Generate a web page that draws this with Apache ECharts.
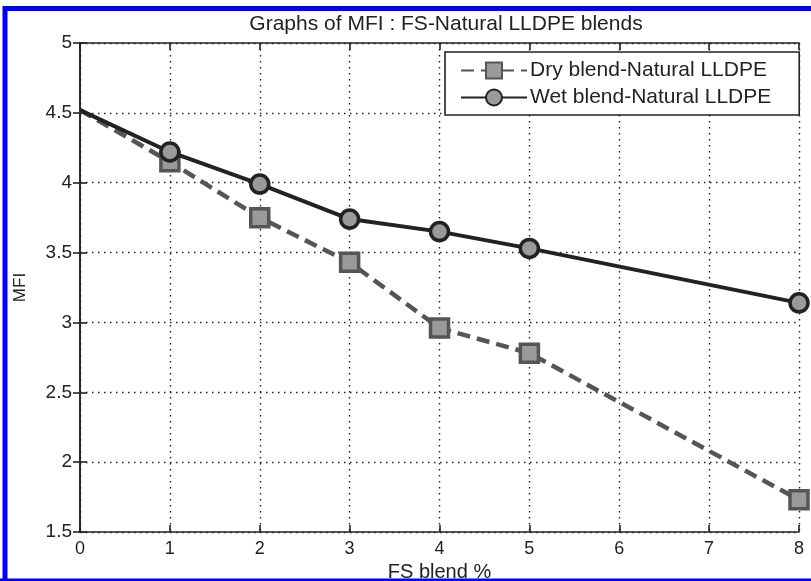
<!DOCTYPE html>
<html>
<head>
<meta charset="utf-8">
<script src="https://cdn.jsdelivr.net/npm/echarts@6/dist/echarts.min.js"></script>
<style>
  html, body { margin: 0; padding: 0; background: #fff; }
  #chart { width: 811px; height: 581px; }
</style>
</head>
<body>
<div id="chart"></div>
<script>
var fsBlend = [0, 1, 2, 3, 4, 5, 8];
var dryMfi = [4.52, 4.15, 3.75, 3.43, 2.96, 2.78, 1.73];
var wetMfi = [4.52, 4.22, 3.99, 3.74, 3.65, 3.53, 3.14];
var seriesNames = ['Dry blend-Natural LLDPE', 'Wet blend-Natural LLDPE'];

// the first point (0 %) is drawn without a marker
function pairs(xs, ys) {
    var out = [];
    for (var i = 0; i < xs.length; i++) {
        if (i === 0) out.push({ value: [xs[i], ys[i]], symbol: 'none' });
        else out.push([xs[i], ys[i]]);
    }
    return out;
}

var chart = echarts.init(document.getElementById('chart'));
var font = 'Liberation Sans, Arial';
var dotted = { type: [1.5, 4.5], color: '#222', width: 1.4 };
var tickIn = { show: true, inside: true, length: 7, lineStyle: { color: '#222', width: 1.6 } };
var boxLine = { show: true, lineStyle: { color: '#222', width: 1.6 } };

var option = {
    animation: false,
    backgroundColor: '#fff',
    title: {
        text: 'Graphs of MFI : FS-Natural LLDPE blends',
        left: 441,
        textAlign: 'center',
        top: 9,
        textStyle: { fontFamily: font, fontSize: 21, fontWeight: 'normal', color: '#222' }
    },
    grid: { left: 80, right: 12, top: 43, bottom: 49, outerBoundsMode: 'none' },
    legend: {
        orient: 'vertical',
        left: 445,
        top: 52,
        padding: [8, 28, 7, 15],
        itemGap: 6,
        itemWidth: 66,
        itemHeight: 20,
        backgroundColor: '#fff',
        borderColor: '#222',
        borderWidth: 1.6,
        borderRadius: 0,
        textStyle: { fontFamily: font, fontSize: 21, color: '#222', padding: [0, 0, 0, -2] },
        data: seriesNames
    },
    xAxis: [{
        type: 'value',
        min: 0, max: 8, interval: 1,
        name: 'FS blend %',
        nameLocation: 'middle',
        nameGap: 30,
        nameTextStyle: { fontFamily: font, fontSize: 20, color: '#222' },
        axisLine: boxLine,
        axisTick: tickIn,
        axisLabel: { fontFamily: font, fontSize: 18, color: '#222', margin: 8 },
        splitLine: { show: true, lineStyle: dotted }
    }, {
        type: 'value',
        position: 'top',
        min: 0, max: 8, interval: 1,
        axisLine: boxLine,
        axisTick: tickIn,
        axisLabel: { show: false },
        splitLine: { show: false }
    }],
    yAxis: [{
        type: 'value',
        min: 1.5, max: 5, interval: 0.5,
        name: 'MFI',
        nameLocation: 'middle',
        nameGap: 51,
        nameTextStyle: { fontFamily: font, fontSize: 17, color: '#222' },
        axisLine: boxLine,
        axisTick: tickIn,
        axisLabel: { fontFamily: font, fontSize: 19, color: '#222', margin: 8 },
        splitLine: { show: true, lineStyle: dotted }
    }, {
        type: 'value',
        position: 'right',
        min: 1.5, max: 5, interval: 0.5,
        axisLine: boxLine,
        axisTick: tickIn,
        axisLabel: { show: false },
        splitLine: { show: false }
    }],
    graphic: [{
        type: 'polyline',
        shape: { points: [[5, 581], [5, 8.5], [811, 8.5]] },
        style: { stroke: '#0000ff', lineWidth: 5, fill: null },
        z: 100
    }, {
        type: 'line',
        shape: { x1: 0, y1: 580, x2: 811, y2: 580 },
        style: { stroke: '#0000ff', lineWidth: 3 },
        z: 100
    }],
    series: [{
        name: seriesNames[0],
        type: 'line',
        data: pairs(fsBlend, dryMfi),
        symbol: 'rect',
        symbolSize: 18,
        showAllSymbol: true,
        lineStyle: { color: '#555', width: 4.5, type: [13, 7] },
        itemStyle: { color: '#9a9a9a', borderColor: '#555', borderWidth: 3.5 },
        clip: false,
        z: 3
    }, {
        name: seriesNames[1],
        type: 'line',
        data: pairs(fsBlend, wetMfi),
        symbol: 'circle',
        symbolSize: 18,
        showAllSymbol: true,
        lineStyle: { color: '#222', width: 4 },
        itemStyle: { color: '#9a9a9a', borderColor: '#222', borderWidth: 3.5 },
        clip: false,
        z: 4
    }]
};

chart.setOption(option);
</script>
</body>
</html>
